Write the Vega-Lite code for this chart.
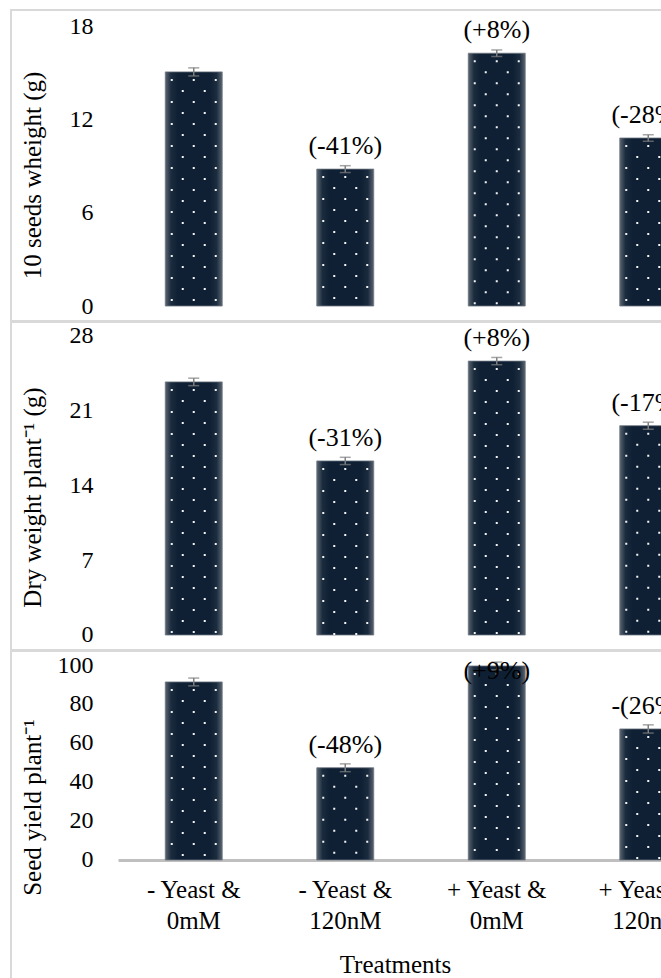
{
  "$schema": "https://vega.github.io/schema/vega-lite/v6.json",
  "background": "white",
  "padding": {"left": 10, "top": 9, "right": 0, "bottom": 0},
  "spacing": -2,
  "config": {
    "font": "Liberation Serif",
    "view": {"stroke": "#d9d9d9", "strokeWidth": 2},
    "axis": {"labelColor": "black", "titleColor": "black", "titleFontWeight": "normal", "grid": false, "ticks": false}
  },
  "datasets": {
    "p1": [
      {"treatment": "- Yeast &\n0mM", "value": 15.05, "err": 0.26, "label": ""},
      {"treatment": "- Yeast &\n120nM", "value": 8.8, "err": 0.22, "label": "(-41%)"},
      {"treatment": "+ Yeast &\n0mM", "value": 16.25, "err": 0.21, "label": "(+8%)"},
      {"treatment": "+ Yeast &\n120nM", "value": 10.8, "err": 0.21, "label": "(-28%)"}
    ],
    "p2": [
      {"treatment": "- Yeast &\n0mM", "value": 23.7, "err": 0.35, "label": ""},
      {"treatment": "- Yeast &\n120nM", "value": 16.3, "err": 0.34, "label": "(-31%)"},
      {"treatment": "+ Yeast &\n0mM", "value": 25.65, "err": 0.34, "label": "(+8%)"},
      {"treatment": "+ Yeast &\n120nM", "value": 19.6, "err": 0.33, "label": "(-17%)"}
    ],
    "p3": [
      {"treatment": "- Yeast &\n0mM", "value": 91.3, "err": 2.0, "label": ""},
      {"treatment": "- Yeast &\n120nM", "value": 47.3, "err": 2.0, "label": "(-48%)"},
      {"treatment": "+ Yeast &\n0mM", "value": 99.5, "err": 2.0, "label": "(+9%)"},
      {"treatment": "+ Yeast &\n120nM", "value": 67.2, "err": 2.1, "label": "-(26%)"}
    ]
  },
  "vconcat": [
    {
      "width": 713,
      "height": 311,
      "data": {"name": "p1"},
      "encoding": {
        "x": {"field": "treatment", "type": "nominal", "sort": null, "axis": null,
              "scale": {"range": [107, 713], "paddingInner": 0.624, "paddingOuter": 0.312}},
        "y": {"field": "value", "type": "quantitative",
              "scale": {"domain": [-0.964, 19.029], "nice": false, "zero": false},
              "axis": {"title": "10 seeds wheight (g)", "values": [0, 6, 12, 18], "domain": false, "offset": -82,
                       "labelPadding": 0, "labelFontSize": 24, "titleFontSize": 25, "titlePadding": 24, "titleY": 165}}
      },
      "layer": [
        {"mark": {"type": "bar", "stroke": "#6b7580", "strokeWidth": 0.8,
                  "fill": {"gradient": "linear", "x1": 0, "y1": 0, "x2": 1, "y2": 0,
                           "stops": [{"offset": 0, "color": "#5a6470"}, {"offset": 0.1, "color": "#1c2c3f"}, {"offset": 0.22, "color": "#0f2034"}, {"offset": 0.78, "color": "#0f2034"}, {"offset": 0.9, "color": "#1c2c3f"}, {"offset": 1, "color": "#5a6470"}]}},
         "encoding": {"y2": {"datum": 0}}},
        {"mark": {"type": "rule", "color": "#f4f5f6", "strokeWidth": 2, "strokeDash": [2, 20], "strokeDashOffset": 15, "xOffset": -22}, "encoding": {"y2": {"datum": 0}}},
        {"mark": {"type": "rule", "color": "#f4f5f6", "strokeWidth": 2, "strokeDash": [2, 20], "strokeDashOffset": 15, "xOffset": 0}, "encoding": {"y2": {"datum": 0}}},
        {"mark": {"type": "rule", "color": "#f4f5f6", "strokeWidth": 2, "strokeDash": [2, 20], "strokeDashOffset": 15, "xOffset": 22}, "encoding": {"y2": {"datum": 0}}},
        {"mark": {"type": "rule", "color": "#f4f5f6", "strokeWidth": 2, "strokeDash": [2, 20], "strokeDashOffset": 4, "xOffset": -11}, "encoding": {"y2": {"datum": 0}}},
        {"mark": {"type": "rule", "color": "#f4f5f6", "strokeWidth": 2, "strokeDash": [2, 20], "strokeDashOffset": 4, "xOffset": 11}, "encoding": {"y2": {"datum": 0}}},
        {"mark": {"type": "errorbar", "ticks": true, "size": 11, "thickness": 1.5, "color": "#7f7f7f"},
         "encoding": {"yError": {"field": "err"}}},
        {"mark": {"type": "text", "fontSize": 26, "color": "black", "baseline": "middle", "dy": -23},
         "encoding": {"text": {"field": "label"}}}
      ]
    },
    {
      "width": 713,
      "height": 328,
      "data": {"name": "p2"},
      "encoding": {
        "x": {"field": "treatment", "type": "nominal", "sort": null, "axis": null,
              "scale": {"range": [107, 713], "paddingInner": 0.624, "paddingOuter": 0.312}},
        "y": {"field": "value", "type": "quantitative",
              "scale": {"domain": [-1.405, 29.311], "nice": false, "zero": false},
              "axis": {"title": "Dry weight plant⁻¹ (g)", "values": [0, 7, 14, 21, 28], "domain": false, "offset": -82,
                       "labelPadding": 0, "labelFontSize": 24, "titleFontSize": 25, "titlePadding": 24, "titleY": 175}}
      },
      "layer": [
        {"mark": {"type": "bar", "stroke": "#6b7580", "strokeWidth": 0.8,
                  "fill": {"gradient": "linear", "x1": 0, "y1": 0, "x2": 1, "y2": 0,
                           "stops": [{"offset": 0, "color": "#5a6470"}, {"offset": 0.1, "color": "#1c2c3f"}, {"offset": 0.22, "color": "#0f2034"}, {"offset": 0.78, "color": "#0f2034"}, {"offset": 0.9, "color": "#1c2c3f"}, {"offset": 1, "color": "#5a6470"}]}},
         "encoding": {"y2": {"datum": 0}}},
        {"mark": {"type": "rule", "color": "#f4f5f6", "strokeWidth": 2, "strokeDash": [2, 20], "strokeDashOffset": 15, "xOffset": -22}, "encoding": {"y2": {"datum": 0}}},
        {"mark": {"type": "rule", "color": "#f4f5f6", "strokeWidth": 2, "strokeDash": [2, 20], "strokeDashOffset": 15, "xOffset": 0}, "encoding": {"y2": {"datum": 0}}},
        {"mark": {"type": "rule", "color": "#f4f5f6", "strokeWidth": 2, "strokeDash": [2, 20], "strokeDashOffset": 15, "xOffset": 22}, "encoding": {"y2": {"datum": 0}}},
        {"mark": {"type": "rule", "color": "#f4f5f6", "strokeWidth": 2, "strokeDash": [2, 20], "strokeDashOffset": 4, "xOffset": -11}, "encoding": {"y2": {"datum": 0}}},
        {"mark": {"type": "rule", "color": "#f4f5f6", "strokeWidth": 2, "strokeDash": [2, 20], "strokeDashOffset": 4, "xOffset": 11}, "encoding": {"y2": {"datum": 0}}},
        {"mark": {"type": "errorbar", "ticks": true, "size": 11, "thickness": 1.5, "color": "#7f7f7f"},
         "encoding": {"yError": {"field": "err"}}},
        {"mark": {"type": "text", "fontSize": 26, "color": "black", "baseline": "middle", "dy": -23},
         "encoding": {"text": {"field": "label"}}}
      ]
    },
    {
      "width": 713,
      "height": 335,
      "data": {"name": "p3"},
      "encoding": {
        "x": {"field": "treatment", "type": "nominal", "sort": null,
              "scale": {"range": [107, 713], "paddingInner": 0.624, "paddingOuter": 0.312},
              "axis": {"orient": "bottom", "offset": -126, "domainColor": "#bfbfbf", "domainWidth": 3,
                       "labelFontSize": 25, "labelPadding": 17, "labelAngle": 0,
                       "labelExpr": "split(datum.label, '\\n')", "labelLineHeight": 31,
                       "title": "Treatments", "titleFontSize": 25, "titlePadding": 19, "titleX": 384}}
      },
      "resolve": {"scale": {"y": "independent"}},
      "layer": [
        {
          "encoding": {
            "y": {"field": "value", "type": "quantitative",
                  "scale": {"domain": [-64.62, 107.18], "nice": false, "zero": false},
                  "axis": {"title": "Seed yield plant⁻¹", "values": [0, 20, 40, 60, 80, 100], "domain": false, "offset": -82,
                           "labelPadding": 0, "labelFontSize": 24, "titleFontSize": 25, "titlePadding": 12, "titleY": 156}}
          },
          "layer": [
            {"mark": {"type": "bar", "stroke": "#6b7580", "strokeWidth": 0.8,
                      "fill": {"gradient": "linear", "x1": 0, "y1": 0, "x2": 1, "y2": 0,
                               "stops": [{"offset": 0, "color": "#5a6470"}, {"offset": 0.1, "color": "#1c2c3f"}, {"offset": 0.22, "color": "#0f2034"}, {"offset": 0.78, "color": "#0f2034"}, {"offset": 0.9, "color": "#1c2c3f"}, {"offset": 1, "color": "#5a6470"}]}},
             "encoding": {"y2": {"datum": 0}}},
            {"mark": {"type": "rule", "color": "#f4f5f6", "strokeWidth": 2, "strokeDash": [2, 20], "strokeDashOffset": 15, "xOffset": -22}, "encoding": {"y2": {"datum": 0}}},
            {"mark": {"type": "rule", "color": "#f4f5f6", "strokeWidth": 2, "strokeDash": [2, 20], "strokeDashOffset": 15, "xOffset": 0}, "encoding": {"y2": {"datum": 0}}},
            {"mark": {"type": "rule", "color": "#f4f5f6", "strokeWidth": 2, "strokeDash": [2, 20], "strokeDashOffset": 15, "xOffset": 22}, "encoding": {"y2": {"datum": 0}}},
            {"mark": {"type": "rule", "color": "#f4f5f6", "strokeWidth": 2, "strokeDash": [2, 20], "strokeDashOffset": 4, "xOffset": -11}, "encoding": {"y2": {"datum": 0}}},
            {"mark": {"type": "rule", "color": "#f4f5f6", "strokeWidth": 2, "strokeDash": [2, 20], "strokeDashOffset": 4, "xOffset": 11}, "encoding": {"y2": {"datum": 0}}},
            {"mark": {"type": "errorbar", "ticks": true, "size": 11, "thickness": 1.5, "color": "#7f7f7f"},
             "encoding": {"yError": {"field": "err"}}}
          ]
        },
        {
          "mark": {"type": "text", "fontSize": 26, "color": "black", "baseline": "middle", "dy": 20},
          "encoding": {
            "y": {"field": "value", "type": "quantitative",
                  "scale": {"domain": [-86.62, 85.18], "nice": false, "zero": false, "clamp": true},
                  "axis": null},
            "text": {"field": "label"}
          }
        }
      ]
    }
  ]
}
